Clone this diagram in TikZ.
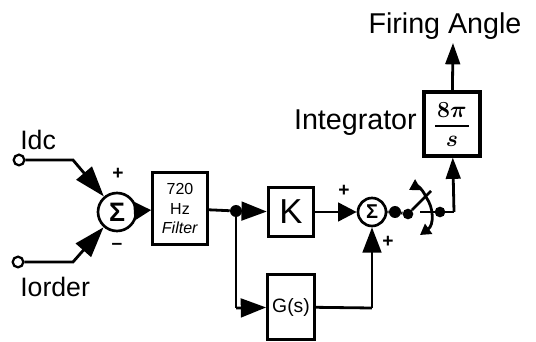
\documentclass[tikz,border=0pt]{standalone}
\usepackage{fontspec}
\setmainfont{Liberation Sans}
\usetikzlibrary{arrows.meta}
\tikzset{
 wire/.style={line width=2.1pt,black},
 arr/.style={wire,-{Triangle[length=16pt,width=11pt]}},
 bigarr/.style={wire,-{Triangle[length=23pt,width=15pt]}},
 block/.style={draw,line width=2.3pt,inner sep=0pt,align=center},
 sumnode/.style={draw,circle,line width=2pt,minimum size=#1,inner sep=0pt},
 dotn/.style={circle,fill=black,minimum size=9pt,inner sep=0pt},
 port/.style={circle,draw,fill=white,line width=1.7pt,minimum width=5pt,minimum height=8pt,inner sep=0pt},
 lab/.style={inner sep=0pt},
 sign/.style={inner sep=0pt,font=\bfseries\Large}
}
\begin{document}
\begin{tikzpicture}[x=0.75pt,y=-0.75pt]
\useasboundingbox (0,0) rectangle (536,342);
\fill[white] (0,0) rectangle (536,342);
% blocks
\node[sumnode=28.5pt,font=\fontsize{20}{20}\selectfont\bfseries] (s1) at (117,212) {Σ};
\node[block,minimum width=41pt,minimum height=54pt,font=\fontsize{12}{14.5}\selectfont] (f) at (180,208.5) {720\\Hz\\\textit{Filter}};
\node[block,minimum width=34pt,minimum height=37pt,font=\fontsize{26}{26}\selectfont] (k) at (291,212) {K};
\node[block,minimum width=35pt,minimum height=49pt,font=\fontsize{14.5}{14.5}\selectfont] (g) at (291,307) {G(s)};
\node[sumnode=21pt,font=\fontsize{15}{15}\selectfont\bfseries] (s2) at (372,212) {Σ};
\node[block,minimum width=42pt,minimum height=48pt] (int) at (452,124) {};
\node[lab,font=\fontsize{17}{17}\selectfont\boldmath] (n8) at (452,110) {$8\pi$};
\node[lab,font=\fontsize{17}{17}\selectfont\boldmath] (nS) at (452,141) {$s$};
\draw[line width=1.3pt] (435,126) -- (469,126);
% ports and junctions
\node[port] (p1) at (19,160) {};
\node[port] (p2) at (18,262) {};
\coordinate (b1) at (73,160);
\coordinate (b2) at (73,262);
\node[dotn] (j1) at (236,211) {};
\coordinate (c1) at (236,308);
\coordinate (c2) at (372,308);
\node[dotn] (d1) at (395,212) {};
\node[dotn,minimum size=8pt] (d2) at (408,214) {};
\node[dotn,minimum size=8pt] (d3) at (440,212) {};
\coordinate (t1) at (420,212);
\coordinate (t2) at (454,212);
\coordinate (bl) at (431,191);
\coordinate (top) at (453,43);
% connectors
\draw[bigarr] (p1) -- (b1) -- (s1);
\draw[bigarr] (p2) -- (b2) -- (s1);
\draw[wire,-{Triangle[length=13pt,width=14pt]}] (s1) -- (f);
\draw[wire] (f) -- (j1);
\draw[wire,-{Triangle[length=19pt,width=14pt]}] (j1) -- (k);
\draw[wire] (j1) -- (c1);
\draw[wire,-{Triangle[length=19pt,width=14pt]}] (c1) -- (g);
\draw[wire,-{Triangle[length=14pt,width=14pt]}] (k) -- (s2);
\draw[wire] (g) -- (c2);
\draw[wire,-{Triangle[length=19pt,width=14pt]}] (c2) -- (s2);
\draw[wire] (s2) -- (d1) -- (d2);
\draw[wire] (d2) -- (bl);
\draw[wire] (t1) -- (t2);
\draw[arr] (t2) -- (int);
\draw[arr] (int) -- (top);
% switch actuator
\draw[wire,-{Triangle[length=8pt,width=9pt]}] (426,197) .. controls (421,186) and (416,186) .. (409,190);
\draw[wire,-{Triangle[length=8pt,width=9pt]}] (426,197) .. controls (434,208) and (434,225) .. (420,235);
% labels
\node[lab,anchor=west,font=\fontsize{20}{20}\selectfont] (l1) at (20,140) {Idc};
\node[lab,anchor=west,font=\fontsize{20}{20}\selectfont] (l2) at (20,287) {Iorder};
\node[sign] (pl1) at (118,174) {+};
\node[sign] (mi1) at (117,246) {–};
\node[sign] (pl2) at (344,191) {+};
\node[sign] (pl3) at (388,242) {+};
\node[lab,anchor=east,font=\fontsize{21.5}{21.5}\selectfont] (li) at (417,123) {Integrator};
\node[lab,font=\fontsize{21.5}{21.5}\selectfont] (lf) at (445,26) {Firing Angle};
\end{tikzpicture}
\end{document}
